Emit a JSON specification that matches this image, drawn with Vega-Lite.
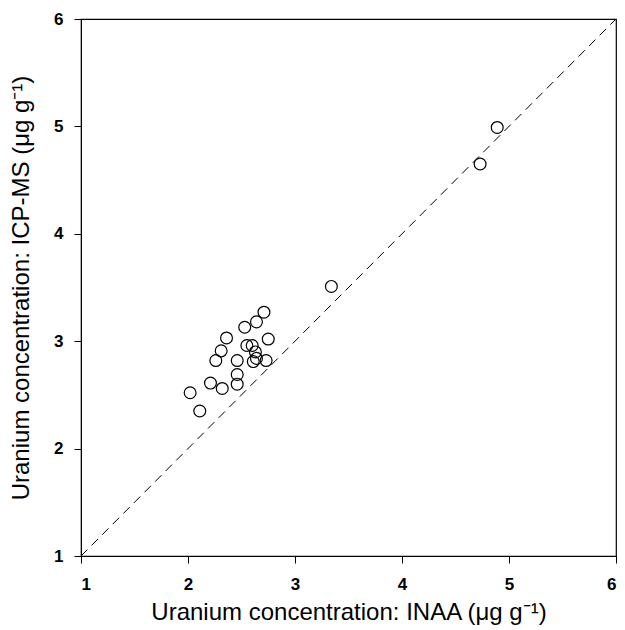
{
  "$schema": "https://vega.github.io/schema/vega-lite/v6.json",
  "width": 535,
  "height": 537,
  "autosize": {"type": "none"},
  "padding": {"left": 81, "top": 19, "right": 9, "bottom": 74},
  "background": "white",
  "config": {
    "view": {"stroke": "black", "strokeWidth": 1.2},
    "axis": {
      "grid": false,
      "domain": true,
      "domainColor": "black",
      "tickColor": "black",
      "tickSize": 7,
      "labelFont": "Liberation Sans",
      "labelFontWeight": "bold",
      "labelFontSize": 17,
      "labelColor": "black",
      "titleFont": "Liberation Sans",
      "titleFontWeight": "normal",
      "titleFontSize": 24,
      "titleColor": "black"
    }
  },
  "datasets": {
    "points": [
      {"inaa": 2.71, "icpms": 3.27},
      {"inaa": 2.64, "icpms": 3.18},
      {"inaa": 2.53, "icpms": 3.13},
      {"inaa": 2.36, "icpms": 3.03},
      {"inaa": 2.75, "icpms": 3.02},
      {"inaa": 2.55, "icpms": 2.96},
      {"inaa": 2.60, "icpms": 2.96},
      {"inaa": 2.31, "icpms": 2.91},
      {"inaa": 2.63, "icpms": 2.90},
      {"inaa": 2.26, "icpms": 2.82},
      {"inaa": 2.46, "icpms": 2.82},
      {"inaa": 2.64, "icpms": 2.84},
      {"inaa": 2.61, "icpms": 2.81},
      {"inaa": 2.73, "icpms": 2.82},
      {"inaa": 2.46, "icpms": 2.69},
      {"inaa": 2.46, "icpms": 2.60},
      {"inaa": 2.21, "icpms": 2.61},
      {"inaa": 2.32, "icpms": 2.56},
      {"inaa": 2.02, "icpms": 2.52},
      {"inaa": 2.11, "icpms": 2.35},
      {"inaa": 3.34, "icpms": 3.51},
      {"inaa": 4.73, "icpms": 4.65},
      {"inaa": 4.89, "icpms": 4.99}
    ],
    "line": [
      {"inaa": 1, "icpms": 1},
      {"inaa": 6, "icpms": 6}
    ]
  },
  "layer": [
    {
      "data": {"name": "line"},
      "mark": {"type": "line", "color": "black", "strokeWidth": 1, "strokeDash": [9, 6]},
      "encoding": {
        "x": {"field": "inaa", "type": "quantitative"},
        "y": {"field": "icpms", "type": "quantitative"}
      }
    },
    {
      "data": {"name": "points"},
      "mark": {"type": "point", "shape": "circle", "filled": false, "color": "black", "strokeWidth": 1.2, "size": 140, "opacity": 1},
      "encoding": {
        "x": {
          "field": "inaa",
          "type": "quantitative",
          "scale": {"domain": [1, 6], "nice": false, "zero": false},
          "axis": {"values": [1, 2, 3, 4, 5, 6], "format": "d", "title": "Uranium concentration: INAA (μg g⁻¹)", "labelPadding": 13, "titlePadding": 8}
        },
        "y": {
          "field": "icpms",
          "type": "quantitative",
          "scale": {"domain": [1, 6], "nice": false, "zero": false},
          "axis": {"values": [1, 2, 3, 4, 5, 6], "format": "d", "title": "Uranium concentration: ICP-MS (μg g⁻¹)", "labelPadding": 11, "titlePadding": 20}
        }
      }
    }
  ]
}
